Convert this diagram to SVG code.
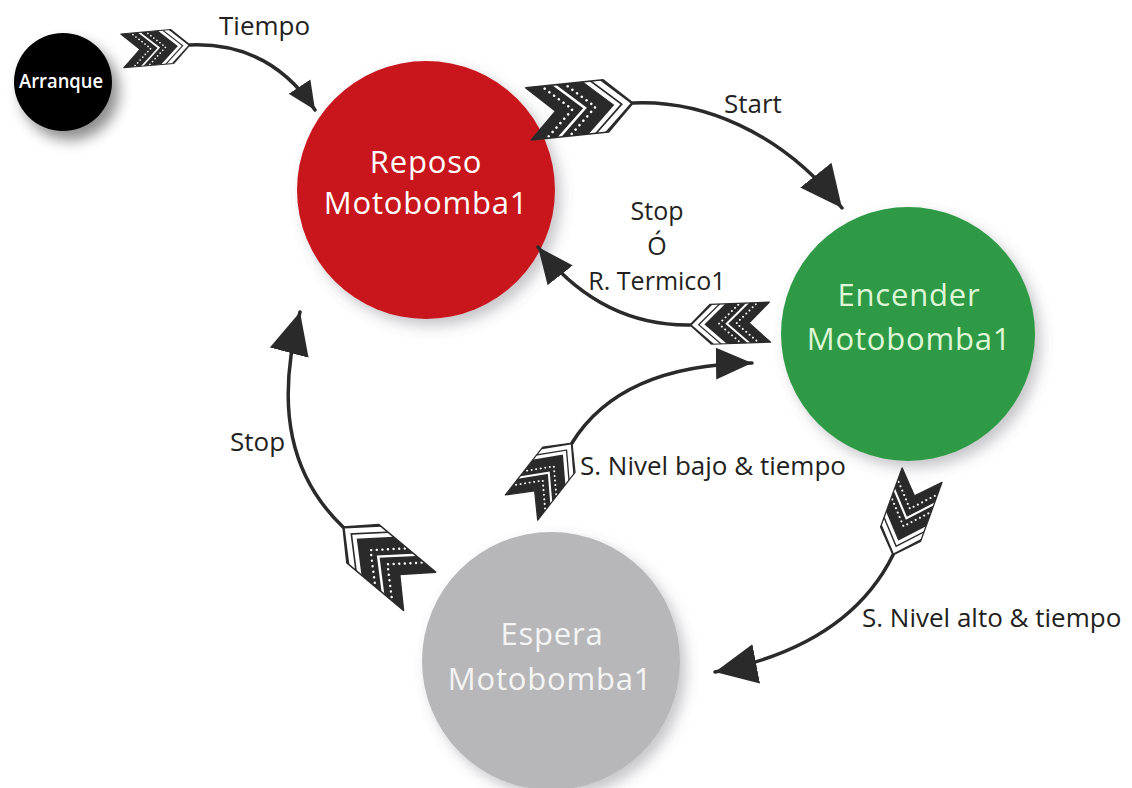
<svg xmlns="http://www.w3.org/2000/svg" xmlns:xlink="http://www.w3.org/1999/xlink" width="1132" height="788" viewBox="0 0 1132 788">
  <style>
    .node-text { font-family: "Open Sans", "Liberation Sans", sans-serif; font-size: 31px; letter-spacing: 0.8px; text-anchor: middle; }
    .lbl { font-family: "Open Sans", "Liberation Sans", sans-serif; font-size: 26px; fill: #231f20; }
    .lbl-stack { font-size: 25px; text-anchor: middle; }
    .shaft { fill: none; stroke: #2a2a2a; stroke-width: 3.5; stroke-linecap: round; }
    .fs { fill: none; stroke: #ffffff; stroke-linejoin: miter; }
    .fd { fill: none; stroke: #ffffff; stroke-width: 2.4; stroke-linecap: round; stroke-dasharray: 0.1 5.5; }
  </style>
  <defs>
    <filter id="shadow" x="-30%" y="-30%" width="160%" height="160%">
      <feDropShadow dx="6" dy="7" stdDeviation="7" flood-color="#5a5a66" flood-opacity="0.35"/>
    </filter>
    <filter id="shadow-dark" x="-40%" y="-40%" width="180%" height="180%">
      <feDropShadow dx="7" dy="9" stdDeviation="7" flood-color="#000000" flood-opacity="0.45"/>
    </filter>
    <marker id="head-lg" markerUnits="userSpaceOnUse" markerWidth="44" markerHeight="42" viewBox="0 0 44 42" refX="42" refY="21" orient="auto">
      <path d="M0,1 L42,21 L0,41 Z" fill="#2a2a2a"/>
    </marker>
    <marker id="head-md" markerUnits="userSpaceOnUse" markerWidth="38" markerHeight="34" viewBox="0 0 38 34" refX="36" refY="17" orient="auto">
      <path d="M0,1 L36,17 L0,33 Z" fill="#2a2a2a"/>
    </marker>
    <marker id="head-sm" markerUnits="userSpaceOnUse" markerWidth="30" markerHeight="28" viewBox="0 0 30 28" refX="28" refY="14" orient="auto">
      <path d="M0,1 L28,14 L0,27 Z" fill="#2a2a2a"/>
    </marker>
    <!-- arrow feathers: shaft joint at the origin, body toward -x -->
    <clipPath id="fl-clip">
      <path d="M0,0 L-26,-25 L-100,-25 L-74,0 L-100,25 L-26,25 Z"/>
    </clipPath>
    <g id="fletch">
      <g clip-path="url(#fl-clip)">
        <rect x="-110" y="-30" width="115" height="60" fill="#2a2a2a"/>
        <path class="fs" stroke-width="5" d="M-38.5,-30 L-6,0 L-38.5,30"/>
        <path class="fs" stroke-width="4" d="M-47.5,-30 L-15,0 L-47.5,30"/>
        <path class="fd" d="M-68.5,-30 L-36,0 L-68.5,30"/>
        <path class="fs" stroke-width="2.5" d="M-78.5,-30 L-46,0 L-78.5,30"/>
        <path class="fd" d="M-90.5,-30 L-58,0 L-90.5,30"/>
      </g>
      <path d="M0,0 L-26,-25 L-100,-25 L-74,0 L-100,25 L-26,25 Z" fill="none" stroke="#2a2a2a" stroke-width="1.5" stroke-linejoin="round"/>
    </g>
  </defs>

  <rect width="1132" height="788" fill="#ffffff"/>

  <!-- states -->
  <g id="arranque">
    <circle cx="63" cy="82" r="49" fill="#050505" filter="url(#shadow-dark)"/>
    <text x="61" y="88" font-family="'Open Sans', 'Liberation Sans', sans-serif" font-size="19" font-weight="600" fill="#ffffff" text-anchor="middle" textLength="84" lengthAdjust="spacingAndGlyphs">Arranque</text>
  </g>

  <g id="reposo">
    <circle cx="426" cy="190" r="129" fill="#c8161f" filter="url(#shadow)"/>
    <text class="node-text" x="426" y="173" fill="#ffffff">Reposo</text>
    <text class="node-text" x="426" y="214" fill="#ffffff">Motobomba1</text>
  </g>

  <g id="encender">
    <circle cx="908" cy="334" r="127" fill="#2f9a45" filter="url(#shadow)"/>
    <text class="node-text" x="909" y="306" fill="#dff6d6">Encender</text>
    <text class="node-text" x="909" y="350" fill="#dff6d6">Motobomba1</text>
  </g>

  <g id="espera">
    <circle cx="551" cy="661" r="129" fill="#b7b7b9" filter="url(#shadow)"/>
    <text class="node-text" x="552" y="645" fill="#f4f4f4">Espera</text>
    <text class="node-text" x="550" y="690" fill="#f4f4f4">Motobomba1</text>
  </g>

  <!-- transitions -->
  <g id="connectors">
    <!-- Arranque -> Reposo -->
    <path class="shaft" d="M190,45 Q270,42 315,110" marker-end="url(#head-sm)"/>
    <use xlink:href="#fletch" transform="translate(190,45) rotate(-5) scale(0.68)"/>

    <!-- Reposo -> Encender -->
    <path class="shaft" d="M633,103 C700,100 780,130 842,208" marker-end="url(#head-lg)"/>
    <use xlink:href="#fletch" transform="translate(633,103) rotate(-6) scale(1.05)"/>

    <!-- Encender -> Reposo -->
    <path class="shaft" d="M690,325 Q600,326 538,247" marker-end="url(#head-md)"/>
    <use xlink:href="#fletch" transform="translate(690,325) rotate(178) scale(0.8)"/>

    <!-- Espera -> Reposo -->
    <path class="shaft" d="M343,527 C292,478 274,410 300,312" marker-end="url(#head-lg)"/>
    <use xlink:href="#fletch" transform="translate(343,527) rotate(-140) scale(1.0)"/>

    <!-- Espera -> Encender -->
    <path class="shaft" d="M572,443 Q620,365 752,363" marker-end="url(#head-md)"/>
    <use xlink:href="#fletch" transform="translate(572,443) rotate(-52) scale(0.82)"/>

    <!-- Encender -> Espera -->
    <path class="shaft" d="M893,555 Q848,646 715,672" marker-end="url(#head-lg)"/>
    <use xlink:href="#fletch" transform="translate(893,555) rotate(110) scale(0.85)"/>
  </g>

  <!-- transition labels -->
  <g id="labels">
    <text class="lbl" x="219" y="35">Tiempo</text>
    <text class="lbl" x="724" y="113">Start</text>
    <text class="lbl lbl-stack" x="657" y="220">Stop</text>
    <text class="lbl lbl-stack" x="657" y="255">Ó</text>
    <text class="lbl lbl-stack" x="657" y="290">R. Termico1</text>
    <text class="lbl" x="230" y="451">Stop</text>
    <text class="lbl" x="580" y="475">S. Nivel bajo &amp; tiempo</text>
    <text class="lbl" x="862" y="627">S. Nivel alto &amp; tiempo</text>
  </g>
</svg>
